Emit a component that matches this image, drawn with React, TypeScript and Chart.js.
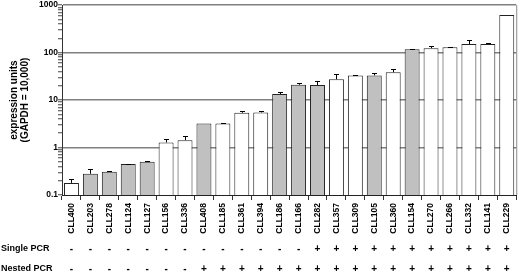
import { useEffect, useRef } from 'react';
import { Chart, registerables } from 'chart.js';

Chart.register(...registerables);

const categories = ['CLL400', 'CLL203', 'CLL278', 'CLL124', 'CLL127', 'CLL156', 'CLL336', 'CLL408', 'CLL185', 'CLL361', 'CLL394', 'CLL186', 'CLL166', 'CLL282', 'CLL357', 'CLL309', 'CLL105', 'CLL360', 'CLL154', 'CLL270', 'CLL266', 'CLL332', 'CLL141', 'CLL229'];
const expression = [0.18, 0.28, 0.31, 0.45, 0.5, 1.28, 1.43, 3.2, 3.2, 5.4, 5.5, 13.4, 21, 20.7, 27.4, 33, 33, 38.5, 118, 124, 130, 151, 151, 620];
const errorUpper = [0.22, 0.36, 0.32, 0.46, 0.51, 1.5, 1.78, 3.2, 3.3, 5.9, 5.8, 14.8, 22.5, 25.5, 35.5, 33.7, 38, 45, 121, 138, 131, 183, 157, 620];
const grayBar = [false, true, true, true, true, false, false, true, false, false, false, true, true, true, false, false, true, false, true, false, false, false, false, false];
const singlePCR = ['-', '-', '-', '-', '-', '-', '-', '-', '-', '-', '-', '-', '-', '+', '+', '+', '+', '+', '+', '+', '+', '+', '+', '+'];
const nestedPCR = ['-', '-', '-', '-', '-', '-', '-', '+', '+', '+', '+', '+', '+', '+', '+', '+', '+', '+', '+', '+', '+', '+', '+', '+'];
const majorTicks = [0.1, 1, 10, 100, 1000];
const rowLabels = ['Single PCR', 'Nested PCR'];
const yTitle = ['expression units', '(GAPDH = 10,000)'];

const FONT = "'Liberation Sans', Arial, sans-serif";

export default function App() {
  const ref = useRef<HTMLCanvasElement | null>(null);

  useEffect(() => {
    const canvas = ref.current;
    if (!canvas) return;

    const extras = {
      id: 'extras',
      afterDatasetsDraw(chart: any) {
        const ctx = chart.ctx;
        const meta = chart.getDatasetMeta(0);
        const y = chart.scales.y;
        ctx.save();
        ctx.strokeStyle = '#000';
        ctx.lineWidth = 1;
        meta.data.forEach((bar: any, i: number) => {
          if (errorUpper[i] <= expression[i]) return;
          const x = Math.round(bar.x) + 0.5;
          const yTop = Math.round(y.getPixelForValue(errorUpper[i])) + 0.5;
          ctx.beginPath();
          ctx.moveTo(x, bar.y);
          ctx.lineTo(x, yTop);
          ctx.moveTo(x - 2.5, yTop);
          ctx.lineTo(x + 2.5, yTop);
          ctx.stroke();
        });
        const a = chart.chartArea;
        ctx.strokeStyle = '#8a8a8a';
        ctx.beginPath();
        ctx.moveTo(a.right + 0.5, a.top);
        ctx.lineTo(a.right + 0.5, a.bottom);
        ctx.stroke();
        ctx.restore();
      },
      afterDraw(chart: any) {
        const ctx = chart.ctx;
        const xs = chart.scales.x;
        const a = chart.chartArea;
        const rows = [singlePCR, nestedPCR];
        const rowY = [a.bottom + 54, a.bottom + 74];
        ctx.save();
        ctx.fillStyle = '#000';
        ctx.textBaseline = 'middle';
        rows.forEach((row, r) => {
          ctx.font = `bold 9px ${FONT}`;
          ctx.textAlign = 'left';
          ctx.fillText(rowLabels[r], 1, rowY[r]);
          ctx.font = `bold 10px ${FONT}`;
          ctx.textAlign = 'center';
          row.forEach((s, i) => {
            ctx.fillText(s, xs.getPixelForValue(i), rowY[r]);
          });
        });
        ctx.restore();
      },
    };

    const chart = new Chart(canvas, {
      type: 'bar',
      data: {
        labels: categories,
        datasets: [
          {
            data: expression,
            backgroundColor: grayBar.map((g) => (g ? '#c0c0c0' : '#ffffff')),
            borderColor: '#222',
            borderWidth: 1,
            barPercentage: 0.79,
            categoryPercentage: 1,
          },
        ],
      },
      options: {
        animation: false,
        responsive: false,
        events: [],
        layout: { padding: { top: 5, right: 2, left: 0, bottom: 0 } },
        plugins: { legend: { display: false }, tooltip: { enabled: false } },
        scales: {
          x: {
            type: 'category',
            offset: true,
            afterFit(scale: any) {
              scale.height = 78;
            },
            grid: {
              drawOnChartArea: false,
              drawTicks: true,
              tickLength: 5,
              offset: true,
              color: '#333',
            },
            border: { display: true, color: '#222', width: 1 },
            ticks: {
              autoSkip: false,
              minRotation: 90,
              maxRotation: 90,
              padding: 3,
              color: '#000',
              font: { family: "'Liberation Sans Narrow', " + FONT, size: 8.5, weight: 'bold' },
            },
          },
          y: {
            type: 'logarithmic',
            min: 0.1,
            max: 1000,
            afterFit(scale: any) {
              scale.width = 62;
            },
            afterBuildTicks(scale: any) {
              const ticks: any[] = [];
              majorTicks.forEach((m, k) => {
                ticks.push({ value: m, major: true });
                if (k < majorTicks.length - 1) {
                  for (let j = 2; j <= 9; j++) ticks.push({ value: +(m * j).toPrecision(3) });
                }
              });
              scale.ticks = ticks;
            },
            grid: {
              drawOnChartArea: true,
              drawTicks: true,
              tickLength: 4,
              lineWidth: 1.5,
              tickWidth: 1,
              color: (c: any) =>
                c.tick && majorTicks.includes(c.tick.value) && c.tick.value !== 0.1 ? '#808080' : 'rgba(0,0,0,0)',
              tickColor: '#444',
            },
            border: { display: true, color: '#333', width: 1 },
            ticks: {
              padding: 0,
              color: '#000',
              autoSkip: false,
              font: { family: FONT, size: 8.5, weight: 'bold' },
              callback: (v: any) => (majorTicks.includes(Number(v)) ? String(v) : ''),
            },
            title: {
              display: true,
              text: yTitle,
              color: '#000',
              font: { family: FONT, size: 10, weight: 'bold', lineHeight: 1.1 },
              padding: { top: 9, bottom: 0 },
            },
          },
        },
      },
      plugins: [extras],
    } as any);

    return () => chart.destroy();
  }, []);

  return (
    <div style={{ position: 'absolute', left: 0, top: 0, width: 520, height: 273, background: '#fff' }}>
      <canvas ref={ref} width={520} height={273} style={{ display: 'block' }} />
    </div>
  );
}
